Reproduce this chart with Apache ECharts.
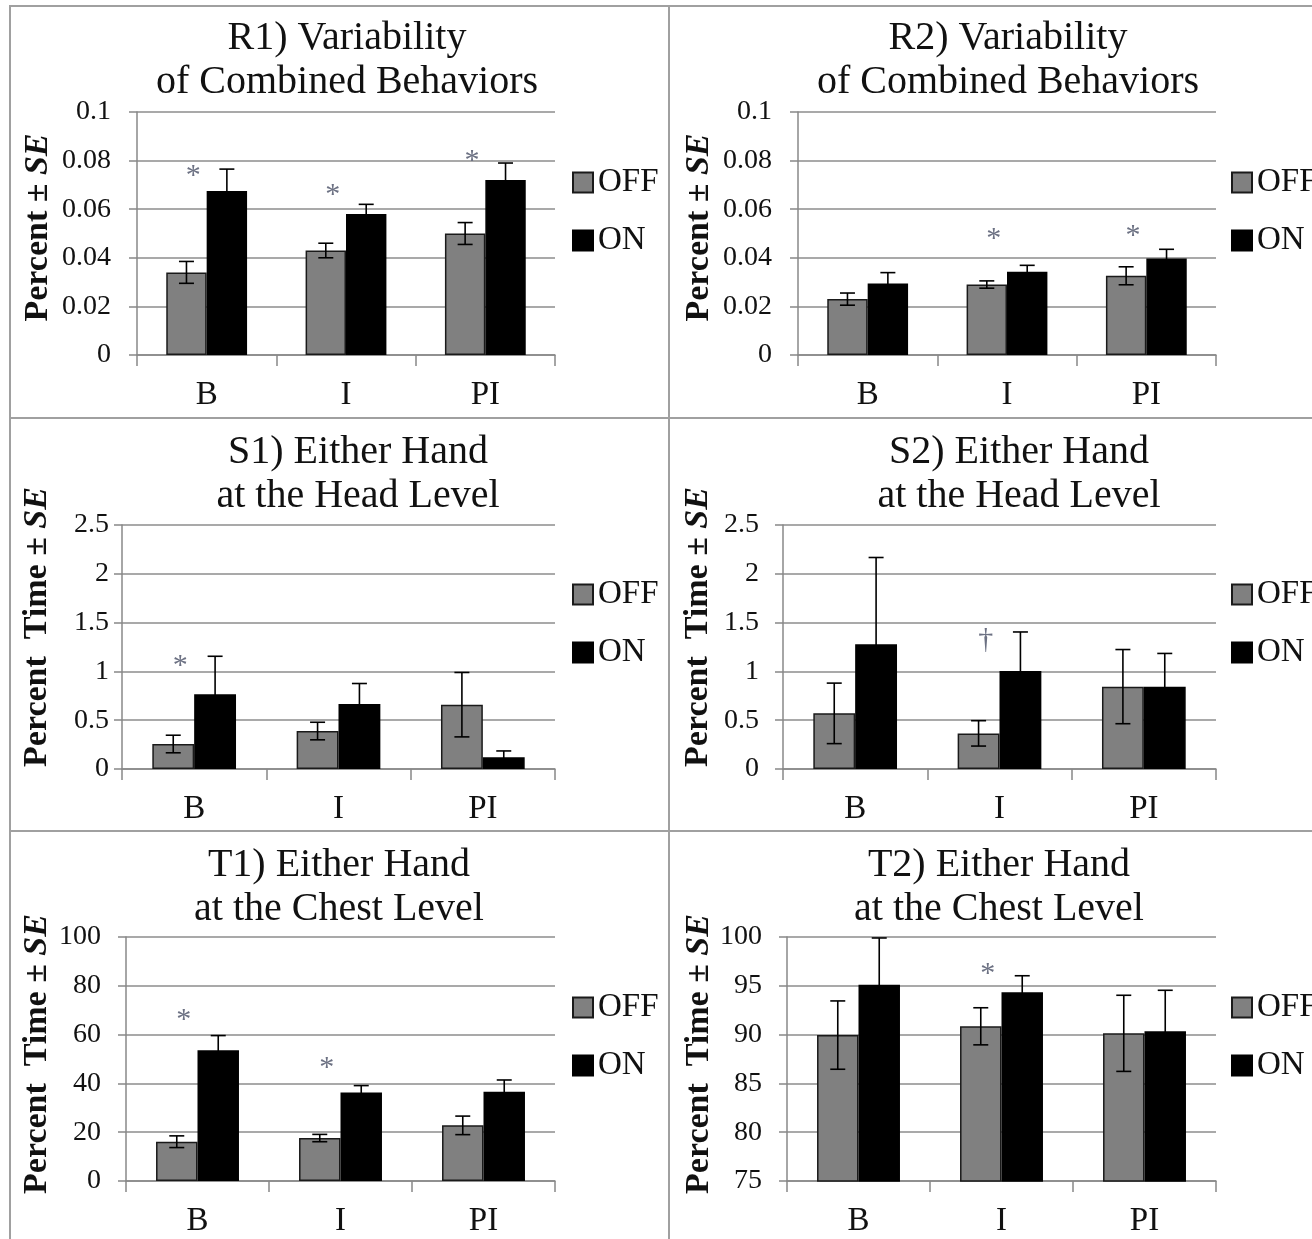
<!DOCTYPE html>
<html><head><meta charset="utf-8">
<script src="https://cdn.jsdelivr.net/npm/echarts@6/dist/echarts.min.js"></script>
<style>html,body{margin:0;padding:0;background:#fff}#c{width:1312px;height:1239px}</style>
</head><body><div id="c"></div>
<script>
// ---------------- data ----------------
const CATEGORIES = ['B', 'I', 'PI'];
const SERIES_NAMES = ['OFF', 'ON'];

const TITLE_R1 = 'R1) Variability\nof Combined Behaviors';
const TITLE_R2 = 'R2) Variability\nof Combined Behaviors';
const TITLE_S1 = 'S1) Either Hand\nat the Head Level';
const TITLE_S2 = 'S2) Either Hand\nat the Head Level';
const TITLE_T1 = 'T1) Either Hand\nat the Chest Level';
const TITLE_T2 = 'T2) Either Hand\nat the Chest Level';

const Y_NAME_R = 'Percent ± {i|SE}';
const Y_NAME_ST = 'Percent  Time ± {i|SE}';

// axis ranges: [min, max, interval]
const AXIS_R = [0, 0.1, 0.02];
const AXIS_S = [0, 2.5, 0.5];
const AXIS_T1 = [0, 100, 20];
const AXIS_T2 = [75, 100, 5];

const R1_OFF = [0.034, 0.043, 0.050];
const R1_OFF_SE = [0.0045, 0.003, 0.0045];
const R1_ON = [0.0675, 0.058, 0.072];
const R1_ON_SE = [0.009, 0.004, 0.007];
const R1_MARK = ['*', '*', '*'];
const R1_MARK_Y = [0.077, 0.069, 0.083];

const R2_OFF = [0.023, 0.029, 0.0326];
const R2_OFF_SE = [0.0025, 0.0015, 0.0037];
const R2_ON = [0.0294, 0.0343, 0.0397];
const R2_ON_SE = [0.0045, 0.0026, 0.0038];
const R2_MARK = ['', '*', '*'];
const R2_MARK_Y = [null, 0.051, 0.0523];

const S1_OFF = [0.256, 0.389, 0.659];
const S1_OFF_SE = [0.09, 0.09, 0.33];
const S1_ON = [0.765, 0.666, 0.12];
const S1_ON_SE = [0.39, 0.21, 0.065];
const S1_MARK = ['*', '', ''];
const S1_MARK_Y = [1.14, null, null];

const S2_OFF = [0.57, 0.365, 0.844];
const S2_OFF_SE = [0.31, 0.13, 0.38];
const S2_ON = [1.277, 1.004, 0.844];
const S2_ON_SE = [0.89, 0.40, 0.34];
const S2_MARK = ['', '†', ''];
const S2_MARK_Y = [null, 1.32, null];

const T1_OFF = [16.1, 17.6, 22.8];
const T1_OFF_SE = [2.4, 1.5, 3.8];
const T1_ON = [53.6, 36.3, 36.6];
const T1_ON_SE = [6.0, 2.8, 4.8];
const T1_MARK = ['*', '*', ''];
const T1_MARK_Y = [69.3, 49.5, null];

const T2_OFF = [89.95, 90.85, 90.13];
const T2_OFF_SE = [3.5, 1.9, 3.9];
const T2_ON = [95.1, 94.33, 90.34];
const T2_ON_SE = [4.8, 1.7, 4.2];
const T2_MARK = ['', '*', ''];
const T2_MARK_Y = [null, 97.0, null];

// ---------------- layout / style ----------------
const SERIF = '"Liberation Serif", "Times New Roman", Times, serif';
const BAR_CAT_GAP = 0.42;
const OFF_COLOR = '#808080';
const ON_COLOR = '#000000';
const GRID_COLOR = '#8c8c8c';
const TEXT_COLOR = '#111111';
const MARK_COLOR = '#6c7183';

const PANELS = [
  { title: TITLE_R1, yName: Y_NAME_R, off: R1_OFF, offSE: R1_OFF_SE, on: R1_ON, onSE: R1_ON_SE, mark: R1_MARK, markY: R1_MARK_Y, axis: AXIS_R },
  { title: TITLE_R2, yName: Y_NAME_R, off: R2_OFF, offSE: R2_OFF_SE, on: R2_ON, onSE: R2_ON_SE, mark: R2_MARK, markY: R2_MARK_Y, axis: AXIS_R },
  { title: TITLE_S1, yName: Y_NAME_ST, off: S1_OFF, offSE: S1_OFF_SE, on: S1_ON, onSE: S1_ON_SE, mark: S1_MARK, markY: S1_MARK_Y, axis: AXIS_S },
  { title: TITLE_S2, yName: Y_NAME_ST, off: S2_OFF, offSE: S2_OFF_SE, on: S2_ON, onSE: S2_ON_SE, mark: S2_MARK, markY: S2_MARK_Y, axis: AXIS_S },
  { title: TITLE_T1, yName: Y_NAME_ST, off: T1_OFF, offSE: T1_OFF_SE, on: T1_ON, onSE: T1_ON_SE, mark: T1_MARK, markY: T1_MARK_Y, axis: AXIS_T1 },
  { title: TITLE_T2, yName: Y_NAME_ST, off: T2_OFF, offSE: T2_OFF_SE, on: T2_ON, onSE: T2_ON_SE, mark: T2_MARK, markY: T2_MARK_Y, axis: AXIS_T2 }
];

const LAYOUT = [
  { left: 137, top: 112, width: 418, height: 243, titleX: 347, titleTop: 16, nameGap: 82, nameShift: 12, labelMargin: 26, legendLeft: 572, legendTop: 166 },
  { left: 798, top: 112, width: 418, height: 243, titleX: 1008, titleTop: 16, nameGap: 82, nameShift: 12, labelMargin: 26, legendLeft: 1231, legendTop: 166 },
  { left: 122, top: 525, width: 433, height: 244, titleX: 358, titleTop: 430, nameGap: 68, nameShift: 40, labelMargin: 13, legendLeft: 572, legendTop: 578 },
  { left: 783, top: 525, width: 433, height: 244, titleX: 1019, titleTop: 430, nameGap: 68, nameShift: 40, labelMargin: 24, legendLeft: 1231, legendTop: 578 },
  { left: 126, top: 937, width: 429, height: 244, titleX: 339, titleTop: 843, nameGap: 72, nameShift: 10, labelMargin: 25, legendLeft: 572, legendTop: 991 },
  { left: 787, top: 937, width: 429, height: 244, titleX: 999, titleTop: 843, nameGap: 71, nameShift: 10, labelMargin: 25, legendLeft: 1231, legendTop: 991 }
];

function errorRender(params, api) {
  const cat = api.value(0), mean = api.value(1), se = api.value(2), side = api.value(3);
  const c = api.coord([cat, mean]);
  const catW = api.size([1, 0])[0];
  const barW = catW * (1 - BAR_CAT_GAP) / 2;
  const x = c[0] + (side === 0 ? -barW / 2 : barW / 2);
  const yTop = api.coord([cat, mean + se])[1];
  const yBot = api.coord([cat, mean - se])[1];
  const cap = 7.5;
  const st = { stroke: '#000', lineWidth: 1.6 };
  return {
    type: 'group',
    children: [
      { type: 'line', shape: { x1: x, y1: yTop, x2: x, y2: yBot }, style: st },
      { type: 'line', shape: { x1: x - cap, y1: yTop, x2: x + cap, y2: yTop }, style: st },
      { type: 'line', shape: { x1: x - cap, y1: yBot, x2: x + cap, y2: yBot }, style: st }
    ]
  };
}

function makeMarkRender(texts) {
  return function (params, api) {
    const cat = api.value(0), y = api.value(1);
    const c = api.coord([cat, y]);
    const catW = api.size([1, 0])[0];
    const barW = catW * (1 - BAR_CAT_GAP) / 2;
    const t = texts[params.dataIndex];
    const dy = t === '*' ? 8 : 0;
    return {
      type: 'text',
      x: c[0] - barW * 0.33,
      y: c[1] + dy,
      style: {
        text: t, fill: MARK_COLOR, font: '30px ' + SERIF,
        align: 'center', verticalAlign: 'middle'
      }
    };
  };
}

const option = {
  backgroundColor: '#fff',
  animation: false,
  title: [], legend: [], grid: [], xAxis: [], yAxis: [], series: [],
  graphic: [
    { type: 'rect', silent: true, shape: { x: 10, y: 6, width: 1330, height: 1260 }, style: { fill: 'none', stroke: '#a0a0a0', lineWidth: 2 } },
    { type: 'line', silent: true, shape: { x1: 669, y1: 6, x2: 669, y2: 1239 }, style: { stroke: '#a0a0a0', lineWidth: 2 } },
    { type: 'line', silent: true, shape: { x1: 10, y1: 418, x2: 1312, y2: 418 }, style: { stroke: '#a0a0a0', lineWidth: 2 } },
    { type: 'line', silent: true, shape: { x1: 10, y1: 831, x2: 1312, y2: 831 }, style: { stroke: '#a0a0a0', lineWidth: 2 } }
  ]
};

PANELS.forEach((p, i) => {
  const L = LAYOUT[i];
  option.title.push({
    text: p.title, left: L.titleX, top: L.titleTop, textAlign: 'center', padding: 0,
    textStyle: { fontFamily: SERIF, fontSize: 40, fontWeight: 'normal', color: TEXT_COLOR, lineHeight: 44 }
  });
  option.legend.push({
    left: L.legendLeft, top: L.legendTop, orient: 'vertical', padding: 0,
    itemWidth: 20, itemHeight: 20, itemGap: 25, icon: 'rect', selectedMode: false,
    data: SERIES_NAMES,
    textStyle: { fontFamily: SERIF, fontSize: 33, color: TEXT_COLOR, lineHeight: 30 }
  });
  option.grid.push({ left: L.left, top: L.top, width: L.width, height: L.height, containLabel: false });
  option.xAxis.push({
    gridIndex: i, type: 'category', data: CATEGORIES, boundaryGap: true,
    axisLine: { onZero: false, lineStyle: { color: '#888', width: 1.5 } },
    axisTick: { show: true, length: 11, alignWithLabel: false, lineStyle: { color: '#888', width: 1.5 } },
    axisLabel: { fontFamily: SERIF, fontSize: 33, color: TEXT_COLOR, margin: 24 },
    splitLine: { show: false }
  });
  option.yAxis.push({
    gridIndex: i, type: 'value', min: p.axis[0], max: p.axis[1], interval: p.axis[2],
    axisLine: { show: true, lineStyle: { color: '#888', width: 1.5 } },
    axisTick: { show: true, length: 8, lineStyle: { color: '#888', width: 1.5 } },
    axisLabel: { fontFamily: SERIF, fontSize: 28, color: TEXT_COLOR, margin: L.labelMargin },
    splitLine: { show: true, lineStyle: { color: GRID_COLOR, width: 1.5 } },
    name: p.yName, nameLocation: 'middle', nameRotate: 90, nameGap: L.nameGap,
    nameTextStyle: {
      fontFamily: SERIF, fontSize: 34, fontWeight: 'bold', color: TEXT_COLOR,
      padding: [0, 0, 0, L.nameShift],
      rich: { i: { fontFamily: SERIF, fontSize: 34, fontWeight: 'bold', fontStyle: 'italic', color: TEXT_COLOR } }
    }
  });
  option.series.push({
    type: 'bar', name: 'OFF', xAxisIndex: i, yAxisIndex: i, data: p.off,
    barGap: '0%', barCategoryGap: (BAR_CAT_GAP * 100) + '%',
    itemStyle: { color: OFF_COLOR, borderColor: '#1a1a1a', borderWidth: 1.5 }
  });
  option.series.push({
    type: 'bar', name: 'ON', xAxisIndex: i, yAxisIndex: i, data: p.on,
    barGap: '0%', barCategoryGap: (BAR_CAT_GAP * 100) + '%',
    itemStyle: { color: ON_COLOR, borderColor: '#000', borderWidth: 1.5 }
  });
  const errData = [];
  CATEGORIES.forEach((c, k) => {
    errData.push([k, p.off[k], p.offSE[k], 0]);
    errData.push([k, p.on[k], p.onSE[k], 1]);
  });
  option.series.push({
    type: 'custom', xAxisIndex: i, yAxisIndex: i, z: 5, silent: true,
    renderItem: errorRender, data: errData, encode: { x: 0, y: 1 }
  });
  const markData = [], markTexts = [];
  p.mark.forEach((t, k) => { if (t) { markData.push([k, p.markY[k]]); markTexts.push(t); } });
  option.series.push({
    type: 'custom', xAxisIndex: i, yAxisIndex: i, z: 6, silent: true,
    renderItem: makeMarkRender(markTexts), data: markData, encode: { x: 0, y: 1 }
  });
});

const chart = echarts.init(document.getElementById('c'), null, { renderer: 'canvas' });
chart.setOption(option);
</script>
</body></html>
